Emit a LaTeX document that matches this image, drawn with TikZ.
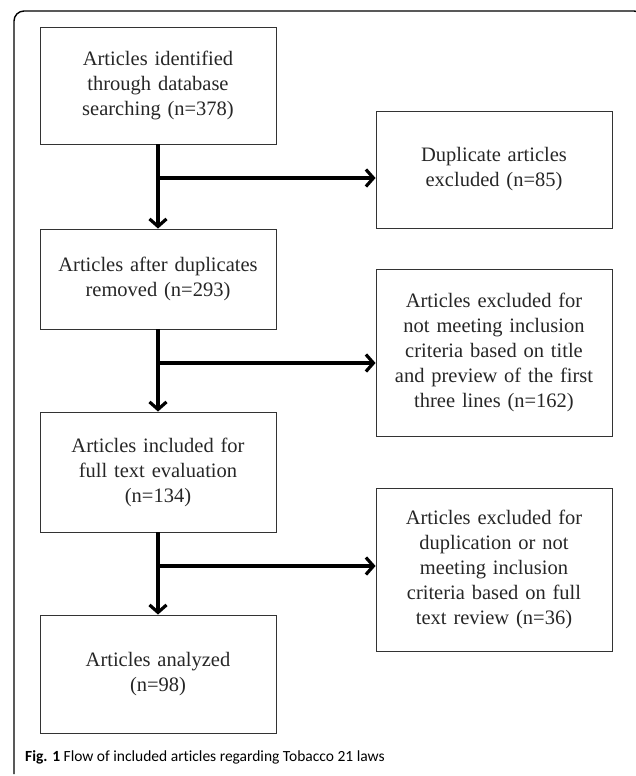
\documentclass[tikz,border=0pt]{standalone}
\usepackage{fontspec}
\setmainfont{Liberation Serif}
\setsansfont[Ligatures=NoCommon]{Carlito}
\usetikzlibrary{arrows.meta}

\tikzset{
  stage/.style={draw=black!80, line width=0.9pt, minimum width=236pt, text width=230pt,
    align=center, inner sep=0pt, text=black!85, font=\fontsize{20.5}{25}\selectfont},
  flow/.style={line width=3.2pt, -{Straight Barb[length=7.5pt,width=17pt]}}
}

\begin{document}
\begin{tikzpicture}[x=1pt,y=-1pt]
  \useasboundingbox (0,0) rectangle (635,776);

  % Figure frame
  \draw[line width=1.4pt, rounded corners=10pt] (14,774) -- (14,11) -- (644,11) -- (644,40);

  % Main stages (left column)
  \node[stage, minimum height=117pt] (ident) at (158,85.5)
    {Articles identified\\through database\\searching (n=378)};
  \node[stage, minimum height=100pt] (dedup) at (158,279)
    {Articles after duplicates\\removed (n=293)};
  \node[stage, minimum height=120pt] (fulltext) at (158,472)
    {Articles included for\\full text evaluation\\(n=134)};
  \node[stage, minimum height=118pt] (analyzed) at (158,674)
    {Articles analyzed\\(n=98)};

  % Exclusions (right column)
  \node[stage, minimum height=117pt] (excl1) at (494,169.5)
    {Duplicate articles\\excluded (n=85)};
  \node[stage, minimum height=167pt] (excl2) at (494,352.5)
    {Articles excluded for\\not meeting inclusion\\criteria based on title\\and preview of the first\\three lines (n=162)};
  \node[stage, minimum height=163pt] (excl3) at (494,569.5)
    {Articles excluded for\\duplication or not\\meeting inclusion\\criteria based on full\\text review (n=36)};

  % Branch points
  \coordinate (br1) at (158,178);
  \coordinate (br2) at (158,363);
  \coordinate (br3) at (158,566);

  % Flow arrows
  \draw[flow] (ident.south) -- (dedup.north);
  \draw[flow] (br1) -- (excl1.west |- br1);
  \draw[flow] (dedup.south) -- (fulltext.north);
  \draw[flow] (br2) -- (excl2.west |- br2);
  \draw[flow] (fulltext.south) -- (analyzed.north);
  \draw[flow] (br3) -- (excl3.west |- br3);

  % Caption
  \node[anchor=base west, inner sep=0pt, font=\sffamily\fontsize{15.5}{19}\selectfont] (caption) at (25,761)
    {\textbf{Fig. 1} Flow of included articles regarding Tobacco 21 laws};
\end{tikzpicture}
\end{document}
